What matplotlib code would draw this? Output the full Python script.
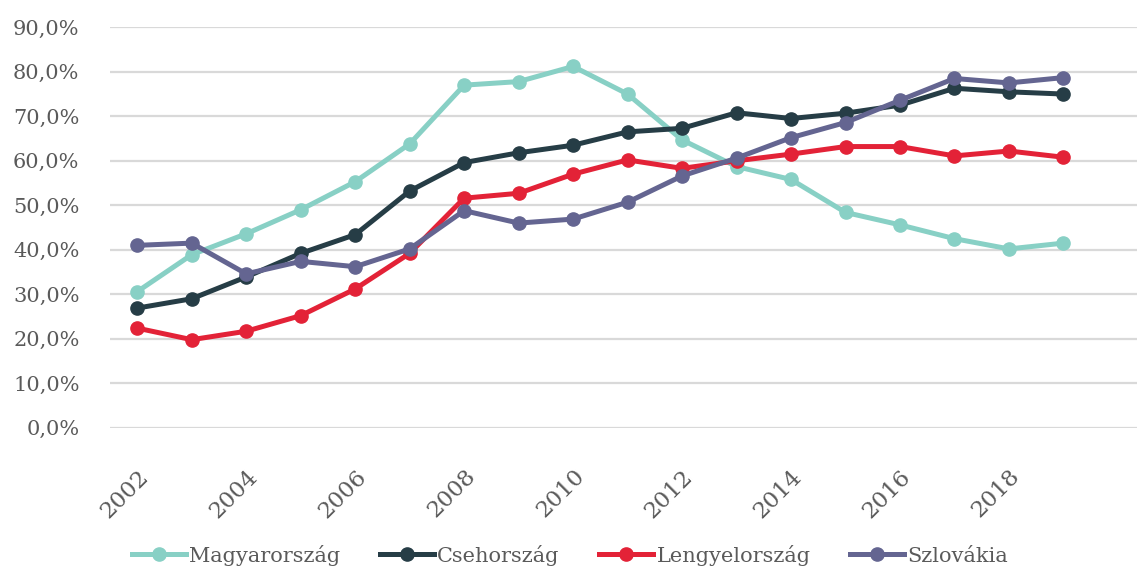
import matplotlib
matplotlib.use("Agg")
import matplotlib.pyplot as plt
from matplotlib.ticker import FuncFormatter, MultipleLocator

years = list(range(2002, 2020))
magyar = [30.6, 38.9, 43.6, 49.0, 55.3, 63.8, 77.0, 77.8, 81.2, 75.0,
          64.7, 58.7, 55.8, 48.4, 45.6, 42.5, 40.2, 41.5]
cseh = [26.9, 29.0, 33.9, 39.2, 43.4, 53.2, 59.6, 61.8, 63.5, 66.5,
        67.3, 70.8, 69.5, 70.7, 72.5, 76.3, 75.5, 75.0]
lengyel = [22.4, 19.8, 21.7, 25.2, 31.2, 39.2, 51.6, 52.7, 57.0, 60.2,
           58.3, 60.0, 61.5, 63.2, 63.2, 61.1, 62.2, 60.8]
szlovak = [41.0, 41.5, 34.6, 37.4, 36.2, 40.2, 48.8, 46.0, 46.9, 50.7,
           56.6, 60.6, 65.2, 68.6, 73.6, 78.5, 77.5, 78.7]
series_names = ["Magyarország", "Csehország", "Lengyelország", "Szlovákia"]
series_values = [magyar, cseh, lengyel, szlovak]
colors = ["#88D0C5", "#263D46", "#E32237", "#646591"]
xtick_years = list(range(2002, 2020, 2))

plt.rcParams['font.family'] = ['DejaVu Serif']
text_color = "#5A5A5A"

fig = plt.figure(figsize=(11.37, 5.68), dpi=100)
ax = fig.add_axes([110/1137, 1-427.8/568, 1-110/1137, (427.8-27.3)/568])

for name, vals, c in zip(series_names, series_values, colors):
    ax.plot(years, vals, color=c, lw=3.6, marker='o', ms=9.5, label=name,
            clip_on=False, solid_joinstyle='round')

ax.set_xlim(2001.5, 2020.35)
ax.set_ylim(0, 90)
ax.yaxis.set_major_locator(MultipleLocator(10))
ax.yaxis.set_major_formatter(FuncFormatter(lambda v, p: f"{v:.1f}%".replace('.', ',')))
ax.grid(axis='y', color='#D9D9D9', lw=1.6)
ax.set_axisbelow(True)
for s in ax.spines.values():
    s.set_visible(False)
ax.tick_params(axis='y', length=0, pad=22, labelsize=15, labelcolor=text_color)
ax.set_xticks(xtick_years)
ax.set_xticklabels([str(y) for y in xtick_years])
ax.tick_params(axis='x', length=0, pad=27, labelsize=16.5, labelcolor=text_color)
for lbl in ax.get_xticklabels():
    lbl.set_rotation(45)
    lbl.set_ha('right')
    lbl.set_va('top')
    lbl.set_rotation_mode('anchor')

leg = fig.legend(loc='center', bbox_to_anchor=(570/1137, 1-555/568), ncol=4,
                 frameon=False, fontsize=15, handlelength=2.6, handletextpad=0.15,
                 columnspacing=1.9, labelcolor=text_color)

fig.savefig("out.png", dpi=100)
